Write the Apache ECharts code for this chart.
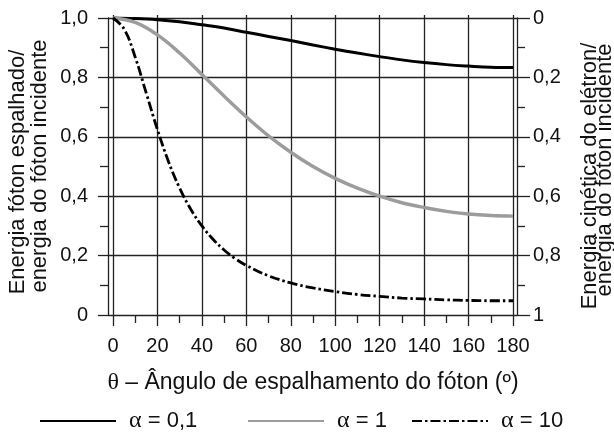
<!DOCTYPE html>
<html>
<head>
<meta charset="utf-8">
<script src="https://cdn.jsdelivr.net/npm/echarts@6/dist/echarts.min.js"></script>
<style>
  html, body { margin: 0; padding: 0; background: #fff; }
  #chart { width: 614px; height: 434px; }
</style>
</head>
<body>
<div id="chart"></div>
<script>
// ângulos de espalhamento (graus)
const angles = [0, 10, 20, 30, 40, 50, 60, 70, 80, 90, 100, 110, 120, 130, 140, 150, 160, 170, 180]
const anglesFine = [0, 5, 10, 15, 20, 25, 30, 35, 40, 45, 50, 55, 60, 70, 80, 90, 100, 110, 120, 130, 140, 150, 160, 170, 180]

const alpha01 = [1, 0.998, 0.994, 0.987, 0.977, 0.966, 0.952, 0.938, 0.924, 0.909, 0.895, 0.882, 0.870, 0.859, 0.850, 0.843, 0.838, 0.834, 0.833]
const alpha1 = [1, 0.985, 0.943, 0.882, 0.810, 0.737, 0.667, 0.603, 0.548, 0.500, 0.460, 0.427, 0.400, 0.378, 0.362, 0.349, 0.340, 0.335, 0.333]
const alpha10 = [1, 0.963, 0.868, 0.746, 0.624, 0.516, 0.427, 0.356, 0.300, 0.255, 0.219, 0.190, 0.167, 0.132, 0.108, 0.091, 0.079, 0.069, 0.063, 0.057, 0.054, 0.051, 0.049, 0.048, 0.048]

const seriesNames = ['α = 0,1', 'α = 1', 'α = 10']
const leftLabels = ['0', '0,2', '0,4', '0,6', '0,8', '1,0']
const rightLabels = ['0', '0,2', '0,4', '0,6', '0,8', '1']

const FONT = '"Liberation Sans", Arial, sans-serif'
const SERIF = '"Liberation Serif", serif'
const INK = '#111'
const GRID_LINE = { color: '#222', width: 1.3 }

const chart = echarts.init(document.getElementById('chart'))

const legendBase = {
  orient: 'horizontal',
  top: 409,
  padding: 0,
  itemWidth: 76,
  itemHeight: 14,
  selectedMode: false,
  itemStyle: { opacity: 0, borderWidth: 0 },
  formatter: (name) => name.replace('α', '{g|α}'),
  textStyle: {
    fontFamily: FONT,
    fontSize: 22,
    color: INK,
    padding: [0, 0, 0, 8],
    rich: { g: { fontFamily: SERIF, fontSize: 24, color: INK } },
  },
}

const yTitle = (x, y, text) => ({
  type: 'text',
  x,
  y,
  rotation: Math.PI / 2,
  style: { text, font: '22px ' + FONT, fill: INK, align: 'center', verticalAlign: 'middle' },
})

const option = {
  animation: false,
  backgroundColor: '#fff',
  grid: [
    { left: 113, right: 101, top: 15, bottom: 119 },
    { left: 108, right: 97, top: 18, bottom: 119 },
  ],
  xAxis: [
    {
      gridIndex: 0,
      type: 'value',
      min: 0,
      max: 180,
      interval: 20,
      name: '{g|θ} – Ângulo de espalhamento do fóton (º)',
      nameLocation: 'middle',
      nameGap: 56,
      nameTextStyle: {
        fontFamily: FONT,
        fontSize: 23,
        color: INK,
        rich: { g: { fontFamily: SERIF, fontSize: 24, color: INK } },
      },
      axisLine: { show: false },
      axisTick: { show: true, inside: false, length: 11, lineStyle: GRID_LINE },
      minorTick: { show: true, splitNumber: 2, length: 8, lineStyle: GRID_LINE },
      splitLine: { show: true, lineStyle: GRID_LINE },
      axisLabel: { fontFamily: FONT, fontSize: 20, color: INK, margin: 21 },
    },
    { gridIndex: 1, type: 'value', min: 0, max: 1, show: false },
  ],
  yAxis: [
    { gridIndex: 0, type: 'value', min: 0, max: 1.0101, show: false },
    {
      gridIndex: 1,
      type: 'value',
      position: 'left',
      min: 0,
      max: 1,
      interval: 0.2,
      axisLine: { show: true, lineStyle: GRID_LINE },
      axisTick: { show: true, length: 10, lineStyle: GRID_LINE },
      minorTick: { show: true, splitNumber: 2, length: 8, lineStyle: GRID_LINE },
      splitLine: { show: true, lineStyle: GRID_LINE },
      axisLabel: {
        fontFamily: FONT, fontSize: 20, color: INK, margin: 20,
        formatter: (v) => leftLabels[Math.round(v * 5)],
      },
    },
    {
      gridIndex: 1,
      type: 'value',
      position: 'right',
      inverse: true,
      min: 0,
      max: 1,
      interval: 0.2,
      axisLine: { show: true, lineStyle: GRID_LINE },
      axisTick: { show: true, length: 13, lineStyle: GRID_LINE },
      minorTick: { show: true, splitNumber: 2, length: 8, lineStyle: GRID_LINE },
      splitLine: { show: false },
      axisLabel: {
        fontFamily: FONT, fontSize: 20, color: INK, margin: 16,
        formatter: (v) => rightLabels[Math.round(v * 5)],
      },
    },
  ],
  legend: [
    { ...legendBase, left: 39, data: [seriesNames[0]] },
    { ...legendBase, left: 247, data: [seriesNames[1]] },
    { ...legendBase, left: 411, data: [seriesNames[2]] },
  ],
  graphic: [
    yTitle(18, 172, 'Energia fóton espalhado/'),
    yTitle(40, 166, 'energia do fóton incidente'),
    yTitle(590, 176, 'Energia cinética do elétron/'),
    yTitle(605, 170, 'energia do fóton incidente'),
  ],
  series: [
    {
      name: seriesNames[0],
      type: 'line',
      xAxisIndex: 0,
      yAxisIndex: 0,
      symbol: 'none',
      smooth: 0.4,
      data: angles.map((a, i) => [a, alpha01[i]]),
      lineStyle: { color: '#000', width: 3 },
      itemStyle: { color: '#000' },
    },
    {
      name: seriesNames[1],
      type: 'line',
      xAxisIndex: 0,
      yAxisIndex: 0,
      symbol: 'none',
      smooth: 0.4,
      data: angles.map((a, i) => [a, alpha1[i]]),
      lineStyle: { color: '#9c9c9c', width: 3.4 },
      itemStyle: { color: '#9c9c9c' },
    },
    {
      name: seriesNames[2],
      type: 'line',
      xAxisIndex: 0,
      yAxisIndex: 0,
      symbol: 'none',
      smooth: 0.4,
      data: anglesFine.map((a, i) => [a, alpha10[i]]),
      lineStyle: { color: '#000', width: 2.8, type: [10, 3, 2.5, 3] },
      itemStyle: { color: '#000' },
    },
  ],
}

chart.setOption(option)
</script>
</body>
</html>
